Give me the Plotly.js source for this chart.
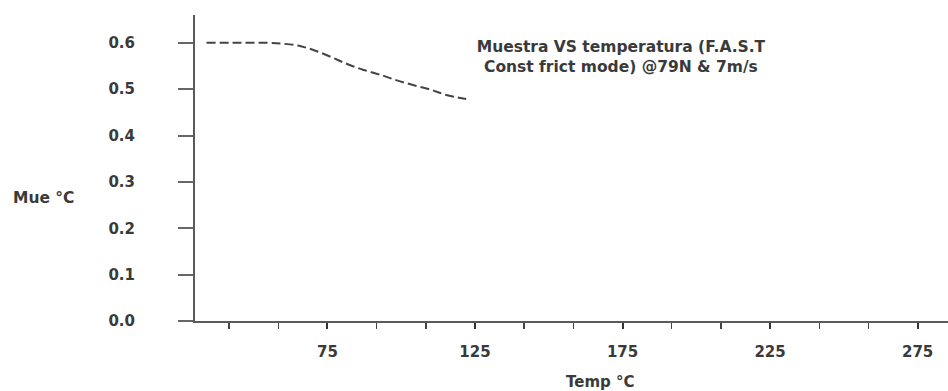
<!DOCTYPE html>
<html>
<head>
<meta charset="utf-8">
<script src="https://cdn.plot.ly/plotly-3.0.1.min.js"></script>
<style>html,body{margin:0;padding:0;background:#fff;}#chart{width:948px;height:391px;}</style>
</head>
<body>
<div id="chart"></div>
<script>
const temp = [34, 45, 55, 60, 65, 70, 76, 81, 87, 93, 98, 104, 110, 115, 122];
const mue = [0.600, 0.600, 0.600, 0.598, 0.594, 0.585, 0.570, 0.556, 0.542, 0.531, 0.520, 0.509, 0.499, 0.488, 0.479];
const xTickVals = [75, 125, 175, 225, 275];
const yTickVals = [0.0, 0.1, 0.2, 0.3, 0.4, 0.5, 0.6];
const yTickText = ['0.0', '0.1', '0.2', '0.3', '0.4', '0.5', '0.6'];
const titleText = 'Muestra VS temperatura (F.A.S.T<br>Const frict mode) @79N &amp; 7m/s';
const xTitle = 'Temp °C';
const yTitle = 'Mue °C';

const fontFam = 'DejaVu Sans, Verdana, sans-serif';
const txtColor = '#3a3a3a';
const axColor = '#5a5a5a';

const trace = {
  x: temp, y: mue, type: 'scatter', mode: 'lines',
  line: {color: '#444', width: 2, dash: '9px,4px', shape: 'spline', smoothing: 1},
  hoverinfo: 'skip'
};

const layout = {
  width: 948, height: 391,
  margin: {l: 195, r: 0, t: 15, b: 70},
  paper_bgcolor: '#fff', plot_bgcolor: '#fff',
  showlegend: false,
  font: {family: fontFam, color: txtColor, size: 15, weight: 'bold'},
  title: {
    text: titleText,
    font: {family: fontFam, size: 15.5, color: txtColor, weight: 'bold'},
    xref: 'container', yref: 'container',
    x: 0.655, xanchor: 'center', y: 0.868, yanchor: 'middle'
  },
  xaxis: {
    range: [30.1, 285.3],
    showgrid: false, zeroline: false,
    showline: true, linecolor: axColor, linewidth: 2,
    tickmode: 'array', tickvals: xTickVals,
    ticks: 'outside', ticklen: 6, tickwidth: 2, tickcolor: '#333',
    ticklabelstandoff: 10,
    tickfont: {family: fontFam, size: 15, color: txtColor, weight: 'bold'},
    minor: {tick0: 75, dtick: 50/3, ticks: 'outside', ticklen: 6, tickwidth: 1.5, tickcolor: '#444', showgrid: false},
    fixedrange: true
  },
  yaxis: {
    range: [0, 0.66],
    showgrid: false, zeroline: false,
    showline: true, linecolor: axColor, linewidth: 2,
    tickmode: 'array', tickvals: yTickVals, ticktext: yTickText,
    ticks: 'outside', ticklen: 15, tickwidth: 2, tickcolor: '#666',
    ticklabelstandoff: 40,
    tickfont: {family: fontFam, size: 15, color: txtColor, weight: 'bold'},
    fixedrange: true
  },
  annotations: [
    {text: yTitle, xref: 'paper', yref: 'paper', x: -0.245, y: 0.402, xanchor: 'left', yanchor: 'middle', showarrow: false,
     font: {family: fontFam, size: 15.5, color: txtColor, weight: 'bold'}},
    {text: xTitle, xref: 'paper', yref: 'paper', x: 0.538, y: -0.199, xanchor: 'center', yanchor: 'middle', showarrow: false,
     font: {family: fontFam, size: 15, color: txtColor, weight: 'bold'}}
  ]
};

Plotly.newPlot('chart', [trace], layout, {staticPlot: true, displayModeBar: false});
</script>
</body>
</html>
